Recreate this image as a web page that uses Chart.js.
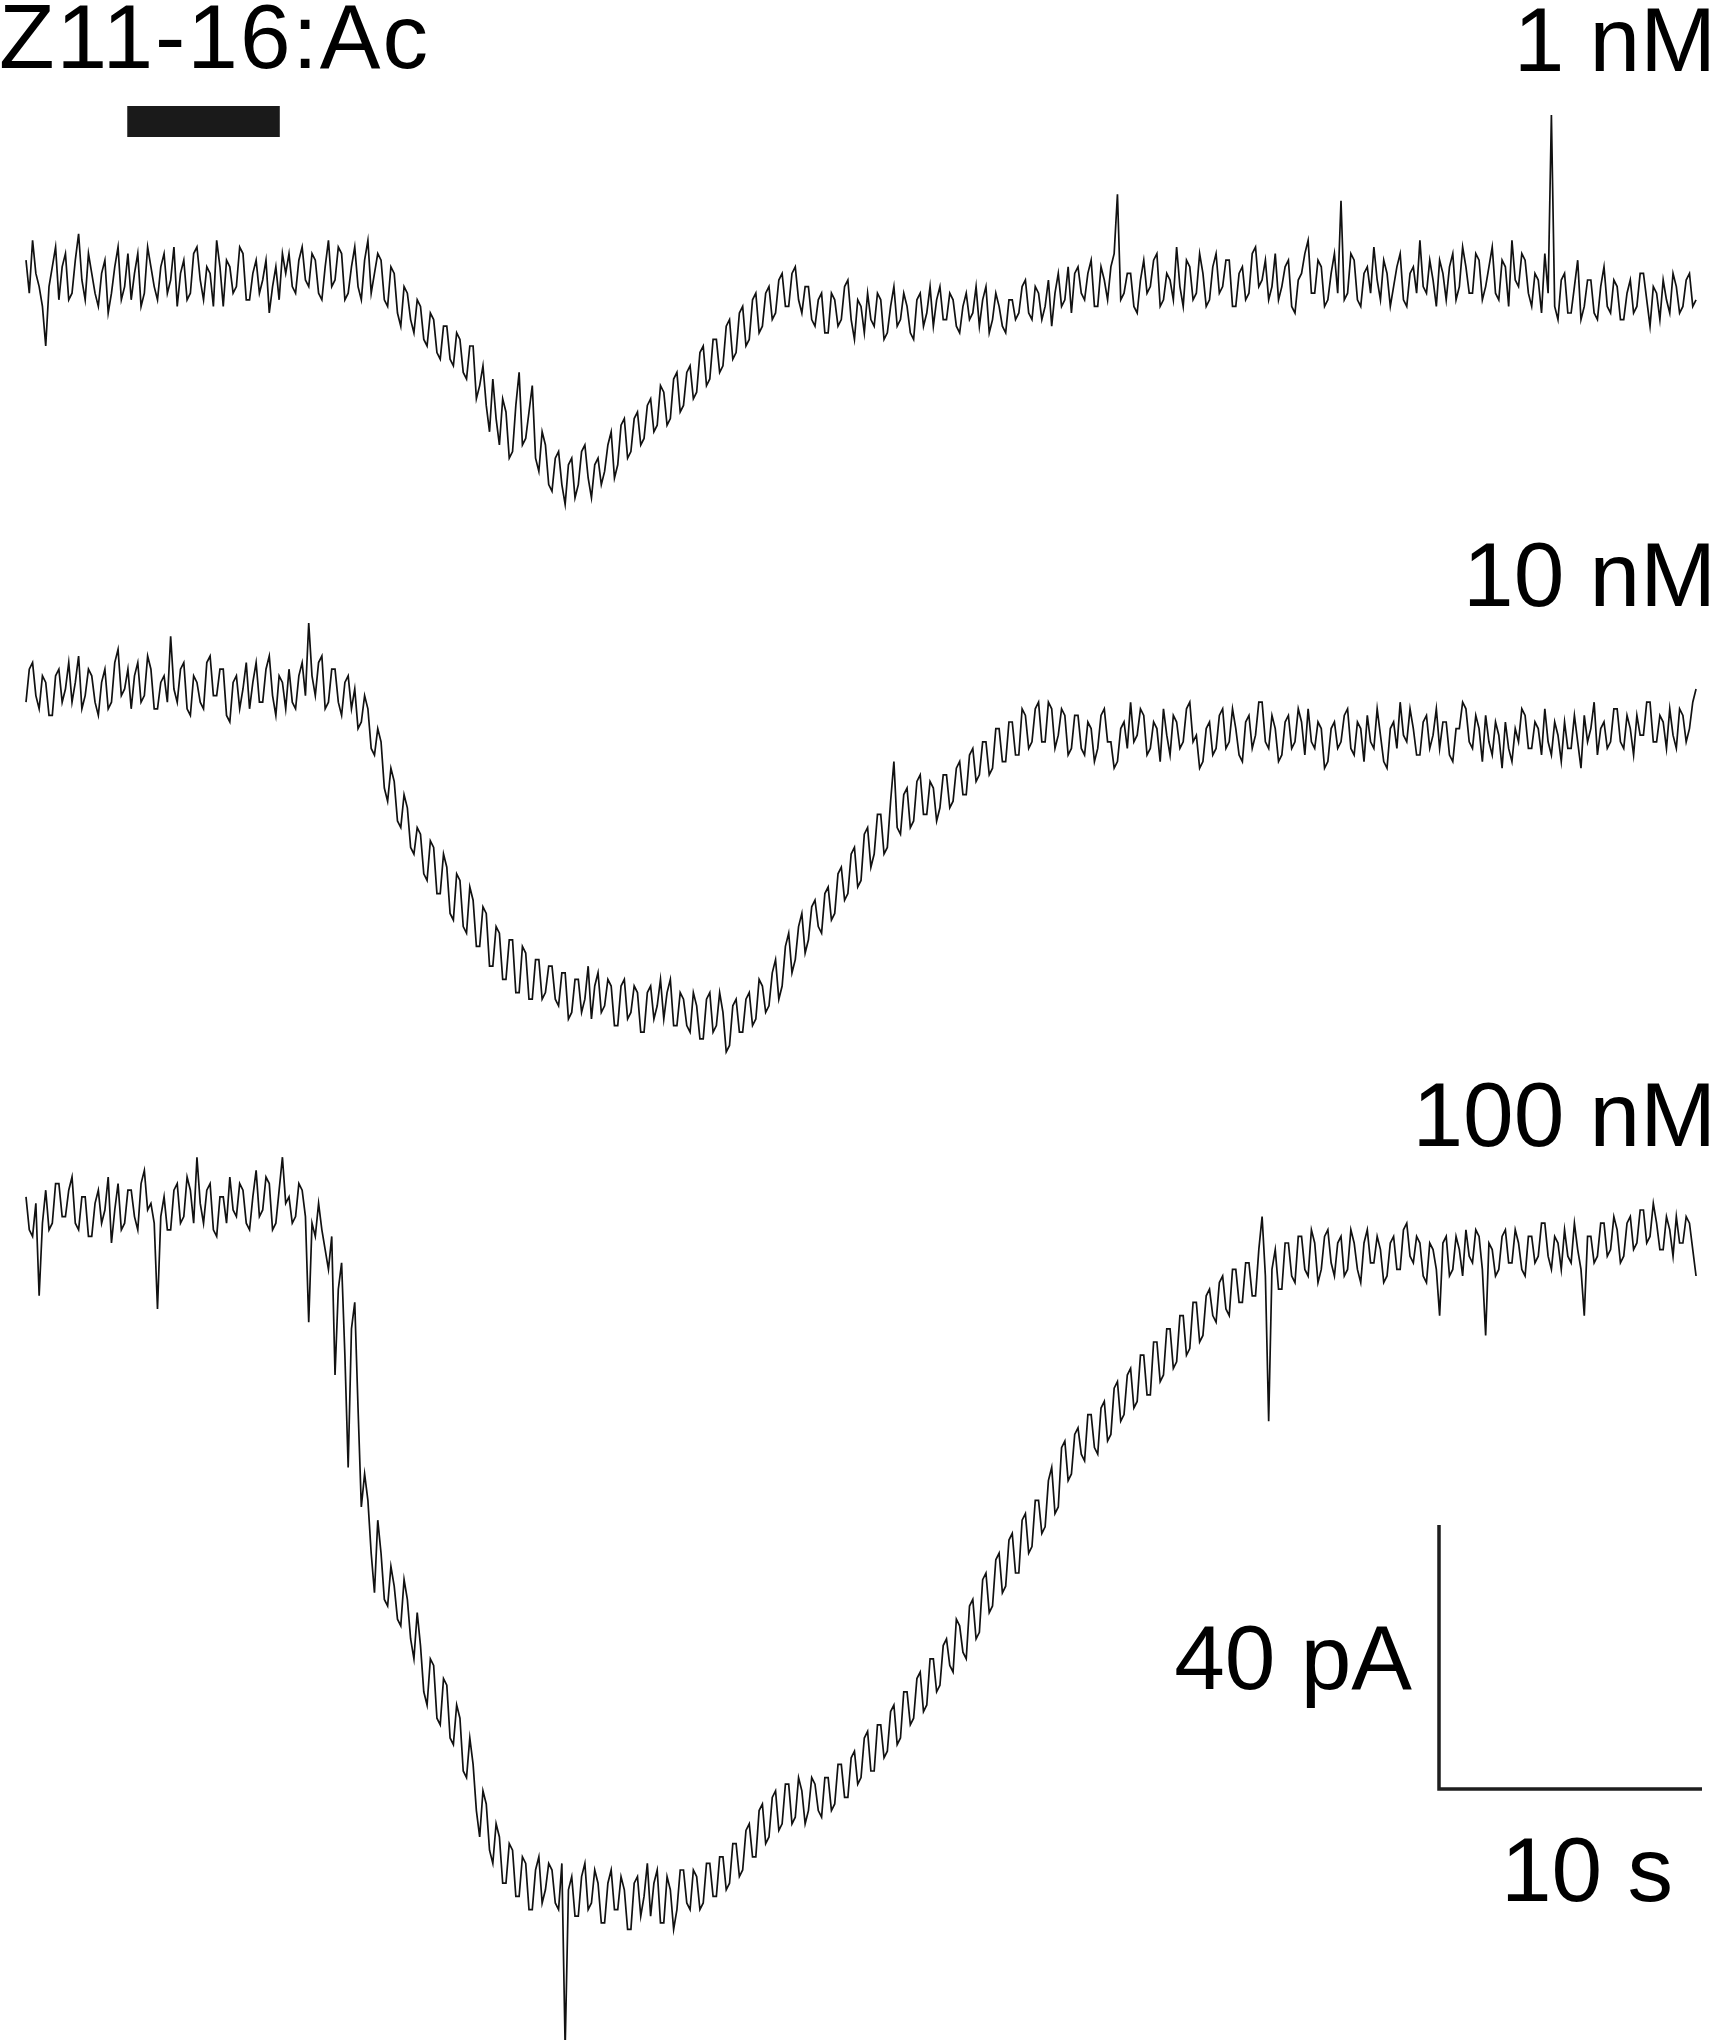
<!DOCTYPE html>
<html>
<head>
<meta charset="utf-8">
<script src="https://cdn.jsdelivr.net/npm/chart.js@4.4.1/dist/chart.umd.min.js"></script>
<style>
  html, body { margin: 0; padding: 0; background: #fff; }
  canvas { display: block; }
</style>
</head>
<body>
<canvas id="traces" width="1712" height="2040"></canvas>
<script>
const SAMPLE_STEP = 0.125;

// stimulus name and concentrations
const stimulusName = "Z11-16:Ac";
const concentrations = ["1 nM", "10 nM", "100 nM"];
const stimulusWindow = [3.85, 9.65]; // s

// current relative to baseline (pA), one value every SAMPLE_STEP seconds, 5 s per row
const trace1nM = [
  3, -2, 6, 1, -1, -4, -10, -1, 2, 5, -3, 2, 4, -3, -2, 3, 7, 0, -3, 4, 1, -2, -4, 1, 3, -5, -2, 2, 5, -3, -1, 4, -3, 1, 4, -4, -2, 5, 2, -1,
  -3, 2, 4, -2, 0, 5, -4, 1, 3, -3, -2, 4, 5, 0, -3, 2, 1, -4, 6, 2, -4, 3, 2, -2, -1, 5, 4, -3, -3, 1, 3, -2, 0, 3, -5, -1, 2, -3, 4, 1,
  4, -1, -2, 3, 5, 0, -1, 4, 3, -2, -3, 2, 6, -1, 0, 5, 4, -3, -2, 2, 5, -1, -3, 3, 6, -2, 1, 4, 3, -3, -4, 2, 1, -5, -7, -1, -2, -6, -8, -3,
  -4, -9, -10, -5, -6, -11, -12, -7, -7, -12, -13, -8, -9, -14, -15, -10, -10, -18, -16, -13, -19, -23, -15, -21, -25, -18, -20, -27, -26, -19, -14, -25, -24, -20, -16, -27, -29, -23, -25, -31,
  -32, -27, -26, -31, -34, -28, -27, -33, -31, -26, -25, -30, -33, -28, -27, -31, -29, -25, -23, -30, -28, -22, -21, -27, -26, -21, -20, -25, -24, -19, -18, -23, -22, -16, -17, -22, -21, -15, -14, -20,
  -19, -14, -13, -18, -17, -11, -10, -16, -15, -9, -9, -14, -13, -7, -6, -12, -11, -5, -4, -10, -9, -3, -2, -8, -7, -2, -1, -6, -5, 0, 1, -4, -4, 1, 2, -3, -5, -1, -1, -6,
  -7, -3, -2, -8, -8, -2, -3, -7, -6, -1, 0, -6, -9, -3, -4, -8, -2, -6, -7, -2, -3, -9, -8, -4, -1, -7, -6, -2, -4, -8, -9, -3, -2, -7, -5, -1, -7, -3, -1, -6,
  -6, -2, -3, -7, -8, -4, -2, -6, -5, -1, -7, -3, -1, -8, -6, -2, -4, -7, -8, -3, -3, -6, -5, -1, 0, -5, -6, -1, -2, -6, -4, 0, -7, -2, 1, -4, -3, 2, -5, 1,
  2, -2, -3, 1, 3, -4, -4, 2, 0, -3, 2, 4, 13, -3, -2, 1, 1, -4, -5, 0, 3, -2, -1, 3, 4, -4, -3, 1, 0, -3, 5, -1, -4, 3, 2, -3, -2, 4, 1, -4,
  -3, 2, 4, -2, -1, 3, 3, -4, -4, 1, 2, -3, -2, 4, 5, -1, 0, 3, -3, -1, 4, -3, -1, 2, 3, -4, -5, 0, 1, 4, 6, -2, -2, 3, 2, -4, -3, 1, 4, -2,
  12, -3, -2, 4, 3, -3, -4, 1, 2, -2, 5, 0, -3, 3, 1, -4, -1, 2, 4, -3, -4, 1, 2, -2, 6, -1, -2, 3, 0, -4, 3, 1, -3, 2, 4, -3, -1, 5, 2, -2,
  -2, 4, 3, -3, -1, 2, 5, -2, -3, 3, 2, -4, 6, 0, -1, 4, 3, -2, -4, 1, 0, -5, 4, -2, 25, -4, -6, 0, 1, -5, -5, -1, 3, -6, -4, 0, 0, -5, -6, -1,
  2, -4, -5, 0, -1, -6, -6, -2, 0, -5, -4, 1, 1, -3, -7, -1, -2, -6, 0, -3, -5, 1, -1, -5, -4, 0, 1, -4, -3
];

const trace10nM = [
  -2, 3, 4, -1, -3, 2, 1, -4, -4, 2, 3, -2, 0, 4, -2, 1, 5, -3, -1, 3, 2, -2, -4, 1, 3, -3, -2, 4, 6, -1, 0, 3, -3, 2, 4, -2, -1, 5, 3, -3,
  -3, 1, 2, -2, 8, 0, -2, 3, 4, -3, -4, 2, 1, -2, -3, 4, 5, -1, -1, 3, 3, -4, -5, 1, 2, -3, 0, 4, -3, 1, 4, -2, -2, 3, 5, -1, -4, 2, 1, -3,
  3, -2, -3, 2, 4, -1, 10, 2, -1, 4, 5, -3, -2, 3, 3, -2, -4, 1, 2, -3, 0, -6, -5, -1, -3, -9, -10, -6, -8, -15, -17, -12, -14, -20, -21, -16, -18, -24, -25, -21,
  -22, -28, -29, -23, -24, -31, -31, -25, -27, -34, -35, -28, -29, -36, -37, -30, -32, -39, -39, -33, -34, -42, -42, -36, -37, -44, -44, -38, -38, -46, -46, -39, -40, -47, -47, -41, -41, -47, -46, -42,
  -42, -47, -48, -43, -43, -50, -49, -44, -44, -49, -47, -42, -50, -45, -43, -49, -48, -44, -45, -51, -51, -45, -44, -50, -49, -45, -46, -52, -52, -46, -45, -50, -48, -44, -50, -46, -44, -51, -51, -46,
  -47, -51, -52, -46, -48, -53, -53, -47, -46, -52, -51, -46, -49, -55, -54, -48, -47, -52, -52, -47, -46, -51, -50, -44, -45, -49, -48, -43, -41, -47, -45, -39, -37, -43, -41, -36, -34, -40, -38, -33,
  -32, -36, -37, -31, -30, -35, -34, -28, -27, -32, -31, -25, -24, -30, -29, -22, -21, -27, -25, -19, -19, -25, -24, -17, -11, -21, -22, -16, -15, -21, -20, -14, -13, -19, -19, -14, -15, -20, -18, -13,
  -13, -18, -17, -12, -11, -16, -16, -10, -9, -14, -13, -8, -8, -13, -12, -6, -6, -11, -11, -5, -5, -10, -10, -3, -4, -9, -8, -3, -2, -8, -8, -2, -3, -9, -7, -3, -4, -10, -9, -4,
  -4, -9, -10, -5, -6, -11, -9, -4, -3, -8, -8, -12, -11, -6, -5, -9, -2, -8, -7, -3, -4, -10, -9, -5, -6, -11, -3, -7, -10, -4, -5, -9, -8, -3, -2, -8, -7, -12, -11, -6,
  -5, -10, -9, -4, -3, -9, -8, -3, -6, -10, -11, -5, -4, -9, -7, -2, -2, -8, -9, -4, -6, -11, -10, -5, -4, -9, -8, -3, -5, -10, -3, -8, -9, -5, -6, -12, -11, -6, -5, -9,
  -8, -4, -3, -9, -10, -5, -6, -11, -4, -8, -9, -3, -7, -11, -12, -6, -5, -9, -2, -7, -8, -3, -6, -10, -10, -5, -4, -9, -7, -3, -9, -5, -5, -10, -11, -6, -6, -2, -3, -8,
  -9, -4, -6, -11, -4, -8, -10, -5, -7, -12, -5, -9, -11, -6, -8, -3, -4, -9, -9, -5, -6, -10, -3, -8, -10, -5, -7, -11, -5, -9, -9, -4, -8, -12, -4, -8, -6, -2, -10, -6,
  -5, -9, -8, -3, -3, -8, -9, -4, -6, -10, -4, -7, -7, -2, -2, -8, -8, -4, -5, -9, -3, -7, -9, -3, -4, -8, -6, -2, 0
];

const trace100nM = [
  2, -3, -4, 1, -13, -2, 3, -3, -2, 4, 4, -1, -1, 3, 5, -2, -3, 2, 2, -4, -4, 1, 3, -2, 0, 5, -5, 0, 4, -3, -2, 3, 3, -1, -3, 4, 6, 0, 1, -2,
  -15, -1, 2, -3, -3, 3, 4, -2, -1, 5, 3, -2, 8, 1, -2, 3, 4, -3, -4, 2, 2, -2, 5, 0, -1, 4, 3, -2, -3, 2, 6, -1, 0, 5, 4, -3, -2, 3, 8, 1,
  2, -2, -1, 4, 3, -1, -17, -2, -4, 1, -3, -6, -9, -4, -25, -12, -8, -22, -39, -18, -14, -30, -45, -40, -44, -52, -58, -47, -52, -59, -60, -54, -57, -62, -63, -56, -59, -65, -68, -61,
  -66, -73, -75, -68, -69, -77, -78, -71, -72, -80, -81, -75, -77, -85, -86, -80, -84, -91, -95, -88, -90, -97, -99, -93, -95, -102, -102, -96, -97, -104, -104, -98, -99, -106, -106, -100, -98, -105, -103, -99,
  -100, -105, -106, -99, -127, -103, -101, -107, -107, -101, -99, -106, -105, -100, -102, -108, -108, -102, -100, -106, -106, -101, -103, -109, -109, -102, -101, -107, -104, -99, -107, -102, -100, -108, -108, -101, -103, -109, -106, -100,
  -100, -105, -106, -100, -101, -106, -105, -99, -99, -104, -104, -98, -98, -103, -102, -96, -96, -101, -100, -94, -93, -98, -98, -91, -90, -96, -95, -89, -88, -94, -93, -87, -87, -93, -92, -86, -88, -93, -91, -86,
  -87, -91, -92, -86, -86, -91, -90, -84, -84, -89, -89, -83, -82, -87, -86, -80, -79, -85, -85, -78, -78, -83, -82, -76, -75, -81, -80, -73, -73, -78, -77, -71, -70, -76, -75, -68, -68, -73, -72, -66,
  -65, -69, -70, -62, -63, -67, -68, -60, -59, -65, -64, -56, -55, -61, -60, -53, -52, -58, -57, -50, -49, -55, -55, -47, -46, -52, -51, -44, -44, -49, -48, -41, -39, -46, -45, -36, -35, -41, -40, -34,
  -33, -37, -38, -31, -31, -36, -37, -30, -29, -35, -34, -27, -26, -32, -31, -25, -24, -30, -29, -22, -22, -28, -28, -20, -20, -26, -25, -18, -18, -24, -23, -16, -16, -22, -21, -14, -14, -20, -19, -13,
  -12, -16, -17, -11, -10, -15, -16, -9, -9, -14, -14, -8, -8, -13, -13, -6, -1, -10, -32, -9, -6, -12, -12, -5, -5, -10, -11, -4, -4, -9, -10, -3, -5, -11, -9, -4, -3, -8, -10, -5,
  -4, -10, -9, -3, -5, -9, -11, -5, -3, -8, -8, -4, -6, -11, -10, -5, -4, -9, -9, -3, -2, -7, -8, -4, -5, -10, -11, -5, -6, -9, -16, -5, -4, -10, -9, -4, -6, -10, -3, -7,
  -8, -3, -4, -9, -19, -5, -6, -10, -9, -4, -3, -8, -8, -3, -5, -9, -10, -4, -4, -8, -7, -2, -2, -7, -9, -4, -5, -9, -3, -7, -8, -2, -6, -9, -16, -4, -4, -8, -7, -2,
  -2, -7, -6, -1, -3, -8, -7, -2, -1, -6, -5, 0, 0, -5, -4, 1, -2, -6, -6, -1, -3, -7, -1, -5, -5, -1, -2, -6, -10
];

// scale bar sizes
const scaleBarTime = 10;    // s
const scaleBarCurrent = 40; // pA

// ---- layout (data units: s and pA) ----
const PX_PER_S = 26.3;
const PX_PER_PA = 6.6;
const W = 1712, H = 2040;
const X0 = 26; // pixel where t = 0
const traceOffsets = [-280 / PX_PER_PA, -689 / PX_PER_PA, -1210 / PX_PER_PA];
const stimY = -121.5 / PX_PER_PA;
const barT = (1439 - X0) / PX_PER_S;
const barY = -1789 / PX_PER_PA;

const traces = [trace1nM, trace10nM, trace100nM];

const datasets = traces.map((vals, k) => ({
  data: vals.map((v, i) => ({ x: i * SAMPLE_STEP, y: v + traceOffsets[k] })),
  borderColor: "#111",
  borderWidth: 1.7,
  pointRadius: 0,
  tension: 0,
  fill: false
}));

// stimulus bar
datasets.push({
  data: [{ x: stimulusWindow[0], y: stimY }, { x: stimulusWindow[1], y: stimY }],
  borderColor: "#1a1a1a",
  borderWidth: 31,
  borderCapStyle: "butt",
  pointRadius: 0
});

// scale bar (L shape)
datasets.push({
  data: [
    { x: barT, y: barY + scaleBarCurrent },
    { x: barT, y: barY },
    { x: barT + scaleBarTime, y: barY }
  ],
  borderColor: "#1e1e1e",
  borderWidth: 3.5,
  borderJoinStyle: "miter",
  pointRadius: 0
});

const labelPlugin = {
  id: "labels",
  afterDraw(chart) {
    const c = chart.ctx;
    c.save();
    c.fillStyle = "#000";
    c.font = "91px 'Liberation Sans', Arial, sans-serif";
    c.textBaseline = "alphabetic";
    c.textAlign = "left";
    c.letterSpacing = "2px";
    c.fillText(stimulusName, -1, 68);
    c.letterSpacing = "0px";
    c.fillText(scaleBarTime + " s", 1501, 1901);
    c.textAlign = "right";
    c.fillText(concentrations[0], 1716, 71);
    c.fillText(concentrations[1], 1716, 606);
    c.fillText(concentrations[2], 1716, 1146);
    c.fillText(scaleBarCurrent + " pA", 1412, 1689);
    c.restore();
  }
};

new Chart(document.getElementById("traces"), {
  type: "line",
  data: { datasets: datasets },
  options: {
    responsive: false,
    animation: false,
    layout: { padding: 0 },
    scales: {
      x: { type: "linear", display: false, min: -X0 / PX_PER_S, max: (W - X0) / PX_PER_S },
      y: { display: false, min: -H / PX_PER_PA, max: 0 }
    },
    plugins: { legend: { display: false }, tooltip: { enabled: false } }
  },
  plugins: [labelPlugin]
});
</script>
</body>
</html>
